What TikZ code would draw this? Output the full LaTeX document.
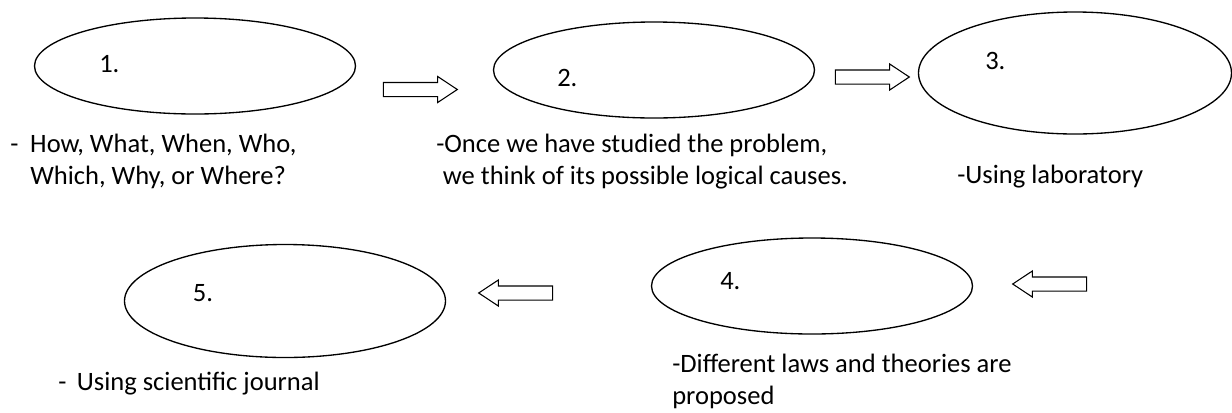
\documentclass[tikz,border=0pt]{standalone}
\usepackage{fontspec}
\setmainfont{Carlito}
\usepackage{tikz}
\usetikzlibrary{
  shapes.geometric, shapes.arrows,
  positioning
}
\newcommand{\stepfont}{\fontsize{19.9pt}{23.4pt}\selectfont}
\tikzset{
  % Method stages
  stage/.style={
    ellipse, draw=black, line width=1pt,
    minimum width=240.75pt, minimum height=72pt,
    inner sep=0pt
  },
  stagenum/.style={
    anchor=base west, inner sep=0pt, font=\stepfont
  },
  note/.style={
    anchor=base west, align=left, inner sep=0pt,
    font=\stepfont
  },
  % Hollow block arrows
  blockarrow/.style={
    single arrow, draw=black, line width=0.8pt,
    inner xsep=0pt, inner ysep=4.875pt, minimum height=55.5pt,
    single arrow head extend=4.5pt, single arrow tip angle=67
  },
  backarrow/.style={
    blockarrow, shape border rotate=180
  }
}

\begin{document}
\begin{tikzpicture}[x=0.75pt, y=-0.75pt]
  \useasboundingbox (0,0) rectangle (1232,412);

  \node[stage] (e1) at (195,66) {};
  \node[stage] (e2) at (654,70) {};
  \node[stage, minimum width=234.75pt, minimum height=91.5pt] (e3) at (1075,73) {};
  \node[stage] (e4) at (812,286) {};
  \node[stage, minimum height=84.75pt] (e5) at (285,301) {};

  \node[stagenum] (n1) at (99,72) {1.};
  \node[stagenum] (n2) at (557,86) {2.};
  \node[stagenum] (n3) at (985,69) {3.};
  \node[stagenum] (n4) at (720,289.5) {4.};
  \node[stagenum] (n5) at (192.6,301) {5.};

  \node[blockarrow] (a12) at (415,89.5) {};
  \node[blockarrow] (a23) at (867,77) {};
  \node[backarrow] (a34) at (1055,284) {};
  \node[backarrow] (a45) at (521,293) {};

  % Notes under the stages (anchored on the last line)
  \node[note] (t1) at (10,184) {\makebox[15pt][l]{-}How, What, When, Who,\\\hspace*{15pt}Which, Why, or Where?};
  \node[note] (t2) at (436,184) {-Once we have studied the problem,\\\hspace*{5pt}we think of its possible logical causes.};
  \node[note] (t3) at (957,183) {-Using laboratory};
  \node[note] (t4) at (672,404) {-Different laws and theories are\\proposed};
  \node[note] (t5) at (58,390) {\makebox[14pt][l]{-}Using scientific journal};

\end{tikzpicture}
\end{document}
